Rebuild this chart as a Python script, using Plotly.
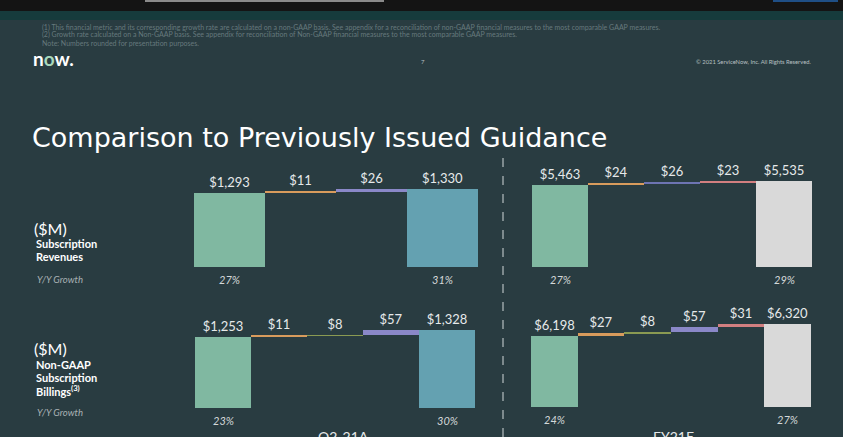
import plotly.graph_objects as go

# Waterfall values ($M)
rev_q2 = [1293, 11, 26, 1330]
rev_fy = [5463, 24, 26, 23, 5535]
bill_q2 = [1253, 11, 8, 57, 1328]
bill_fy = [6198, 27, 8, 57, 31, 6320]

# Y/Y growth under first and last bars
rev_q2_growth = ['27%', '31%']
rev_fy_growth = ['27%', '29%']
bill_q2_growth = ['23%', '30%']
bill_fy_growth = ['24%', '27%']

period_labels = ['Q2-21A', 'FY21E']

W, H = 843, 437
BG = '#293c41'
GREEN = '#80b8a1'
BLUE = '#64a1b1'
GREY = '#d9d9d9'
ORANGE = '#d89b5c'
PURPLE = '#8a88c8'
INDIGO = '#6d74b2'
OLIVE = '#8a9a52'
PINK = '#d27f80'
FONT = 'Lato'

fig = go.Figure()


def px_x(x):
    return x / W


def px_y(y):
    return 1 - y / H


def add_panel(k, vals, colors, growth, xpx, ypx, yrange):
    # floating bars: first and last from zero, steps on top of the running total
    bases, heights = [], []
    run = 0
    for i, v in enumerate(vals):
        if i == 0 or i == len(vals) - 1:
            bases.append(0)
            heights.append(v)
            run = v
        else:
            bases.append(run)
            heights.append(v)
            run += v
    sfx = '' if k == 1 else str(k)
    fig.add_trace(go.Bar(
        x=list(range(len(vals))), y=heights, base=bases,
        marker=dict(color=colors, line=dict(width=0)),
        text=[f'${v:,}' for v in vals], textposition='outside',
        textfont=dict(family=FONT, size=13, color='#e6e9ea'),
        constraintext='none', cliponaxis=False,
        xaxis='x' + sfx, yaxis='y' + sfx, showlegend=False, hoverinfo='skip'
    ))
    fig.layout['xaxis' + sfx] = dict(domain=[px_x(xpx[0]), px_x(xpx[1])],
                                     range=[-0.5, len(vals) - 0.5], visible=False,
                                     anchor='y' + sfx, fixedrange=True)
    fig.layout['yaxis' + sfx] = dict(domain=[px_y(ypx[1]), px_y(ypx[0])],
                                     range=yrange, visible=False,
                                     anchor='x' + sfx, fixedrange=True)
    for xi, g in zip([0, len(vals) - 1], growth):
        fig.add_annotation(x=xi, y=0, xref='x' + sfx, yref=f'y{sfx} domain',
                           text=f'<i>{g}</i>', showarrow=False, yanchor='top', yshift=-4,
                           font=dict(family=FONT, size=11, color='#d4d8d9'))


add_panel(1, rev_q2, [GREEN, ORANGE, PURPLE, BLUE], rev_q2_growth,
          (194, 478), (160, 267), [676, 1568])
add_panel(2, rev_fy, [GREEN, ORANGE, INDIGO, PINK, GREY], rev_fy_growth,
          (532, 812), (160, 267), [3987, 5912])
add_panel(3, bill_q2, [GREEN, ORANGE, OLIVE, PURPLE, BLUE], bill_q2_growth,
          (195, 475), (300, 408), [492, 1649])
add_panel(4, bill_fy, [GREEN, ORANGE, OLIVE, PURPLE, PINK, GREY], bill_fy_growth,
          (531, 811), (300, 407), [5476, 6563])

shapes = [
    dict(type='rect', xref='paper', yref='paper', x0=0, x1=1, y0=px_y(11), y1=1,
         fillcolor='#141414', line=dict(width=0), layer='below'),
    dict(type='rect', xref='paper', yref='paper', x0=0, x1=1, y0=px_y(20), y1=px_y(11),
         fillcolor='#163b3c', line=dict(width=0), layer='below'),
    dict(type='rect', xref='paper', yref='paper', x0=px_x(145), x1=px_x(384),
         y0=px_y(2), y1=1, fillcolor='#8a8a8a', line=dict(width=0)),
    dict(type='rect', xref='paper', yref='paper', x0=px_x(773), x1=px_x(838),
         y0=px_y(2), y1=1, fillcolor='#1f4f86', line=dict(width=0)),
    dict(type='line', xref='paper', yref='paper', x0=px_x(503), x1=px_x(503),
         y0=0, y1=px_y(158), line=dict(color='#7d8a8d', width=2, dash='dash')),
]


def note(text, x, y, size, color='#ffffff', xanchor='left', family=FONT):
    fig.add_annotation(x=px_x(x), y=px_y(y), xref='paper', yref='paper', text=text,
                       showarrow=False, xanchor=xanchor, yanchor='middle',
                       font=dict(family=family, size=size, color=color))


foot = '#66797d'
note('(1) This financial metric and its corresponding growth rate are calculated on a non-GAAP basis. '
     'See appendix for a reconciliation of non-GAAP financial measures to the most comparable GAAP measures.',
     40, 27, 7, foot)
note('(2) Growth rate calculated on a Non-GAAP basis. See appendix for reconciliation of Non-GAAP '
     'financial measures to the most comparable GAAP measures.', 40, 35, 7, foot)
note('Note: Numbers rounded for presentation purposes.', 40, 43, 7, foot)
note("<b>n<span style='color:#a8d8bc'>o</span>w.</b>", 31, 58, 19)
note('7', 423, 61, 6, '#b8c0c2', 'center')
note('© 2021 ServiceNow, Inc. All Rights Reserved.', 813, 61, 5.8, '#b8c0c2', 'right')

note('Comparison to Previously Issued Guidance', 30, 137, 27, family='DejaVu Sans')

note('($M)', 32, 228, 16)
note('<b>Subscription</b>', 34, 243, 11)
note('<b>Revenues</b>', 34, 256, 11)
note('<i>Y/Y Growth</i>', 35, 279, 9.5, '#aab3b5')

note('($M)', 32, 348, 16)
note('<b>Non-GAAP</b>', 34, 364, 11)
note('<b>Subscription</b>', 34, 377, 11)
note('<b>Billings<sup>(3)</sup></b>', 34, 390, 11)
note('<i>Y/Y Growth</i>', 35, 412, 9.5, '#aab3b5')

for txt, xc in zip(period_labels, [343, 673]):
    fig.add_annotation(x=px_x(xc), y=px_y(426), xref='paper', yref='paper', text=txt,
                       showarrow=False, xanchor='center', yanchor='top',
                       font=dict(family=FONT, size=14, color='#e6e9ea'))

fig.update_layout(
    width=W, height=H,
    margin=dict(l=0, r=0, t=0, b=0),
    paper_bgcolor=BG, plot_bgcolor=BG,
    barmode='overlay', bargap=0,
    shapes=shapes,
)

fig.write_html('out.html', config={'displayModeBar': False},
               post_script="document.body.style.margin='0';document.body.style.overflow='hidden';")
